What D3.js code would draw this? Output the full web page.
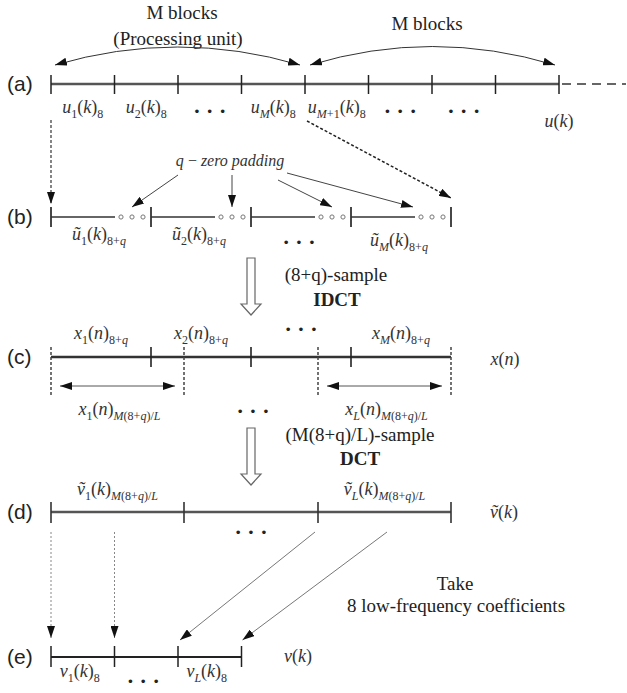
<!DOCTYPE html>
<html>
<head>
<meta charset="utf-8">
<script src="https://cdn.jsdelivr.net/npm/d3@7"></script>
<style>
  body { margin: 0; background: #fff; }
  svg { display: block; }
</style>
</head>
<body>
<svg width="627" height="693"></svg>
<script>
// ---- diagram data ----
var rows = ["(a)", "(b)", "(c)", "(d)", "(e)"];

// block boundaries, in blocks of 8 samples (row a, row e)
var blocksA = [0, 1, 2, 3, 4, 5, 6, 7, 8];
var blocksE = [0, 1, 2, 3];
// zero padded blocks of 8+q samples (rows b, c), M = 4
var blocksB = [0, 1, 2, 3, 4];
var dataPart = 0.64;                  // share of the 8 data samples
var padSamples = [0.70, 0.81, 0.92];  // q zeros at the end of each block
var ticksC = [1, 2, 3];
var partsL = [0, 1.33, 2.67, 4];      // L = 3 pieces of M(8+q)/L samples
var zeroTargets = [0.81, 1.81, 2.81, 3.62];

var labelsA = ["u_{1}(k)_{8}", "u_{2}(k)_{8}", "...", "u_{M}(k)_{8}", "u_{M+1}(k)_{8}", "...", "..."];
var labelsB = ["~u_{1}(k)_{8+q}", "~u_{2}(k)_{8+q}", "...", "~u_{M}(k)_{8+q}"];
var labelsC = ["x_{1}(n)_{8+q}", "x_{2}(n)_{8+q}", "...", "x_{M}(n)_{8+q}"];
var labelsCL = ["x_{1}(n)_{M(8+q)/L}", "...", "x_{L}(n)_{M(8+q)/L}"];
var labelsD = ["~v_{1}(k)_{M(8+q)/L}", "", "~v_{L}(k)_{M(8+q)/L}"];
var labelsE = ["v_{1}(k)_{8}", "...", "v_{L}(k)_{8}"];

// ---- setup ----
var svg = d3.select("svg");
svg.append("rect").attr("width", 627).attr("height", 693).attr("fill", "#fff");

var xa = d3.scaleLinear().domain([0, 8]).range([51, 559]);
var xb = d3.scaleLinear().domain([0, 4]).range([51, 451]);
var y = d3.scaleOrdinal().domain(rows).range([84, 217, 357, 512, 657]);

var serif = "'Liberation Serif', 'Times New Roman', serif";
var sans = "'Liberation Sans', Arial, sans-serif";

var defs = svg.append("defs");
defs.append("marker")
    .attr("id", "head")
    .attr("viewBox", "0 0 12 8")
    .attr("refX", 12).attr("refY", 4)
    .attr("markerWidth", 12).attr("markerHeight", 8)
    .attr("markerUnits", "userSpaceOnUse")
    .attr("orient", "auto-start-reverse")
  .append("path")
    .attr("d", "M0,0L12,4L0,8Z")
    .attr("fill", "#111");

var g = svg.append("g");

// ---- helpers ----
// tiny parser: "_{..}" is a subscript, "~x" puts a tilde on x
function parseMath(src) {
    var runs = [];
    function push(c, sub, tilde) {
        var s = c;
        if (tilde) s = (c === "u") ? "\u0169" : c + "\u0303";
        runs.push({ c: s, sub: sub, italic: /[A-Za-z]/.test(c) });
    }
    var i = 0;
    while (i < src.length) {
        var c = src[i];
        if (c === "_" && src[i + 1] === "{") {
            var j = src.indexOf("}", i);
            for (var k = i + 2; k < j; k++) push(src[k], true);
            i = j + 1;
            continue;
        }
        if (c === "~") { push(src[i + 1], false, true); i += 2; continue; }
        push(c, false);
        i++;
    }
    return runs;
}

function dots(x, cy) {
    g.append("text")
        .attr("x", x).attr("y", cy + 6)
        .attr("text-anchor", "middle")
        .attr("font-family", serif)
        .attr("font-weight", "bold")
        .attr("font-size", 22)
        .attr("fill", "#222")
        .text("\u00b7 \u00b7 \u00b7");
}

function mathLabel(x, yy, src, size) {
    if (!src) return;
    size = size || 18;
    var sub = Math.round(size * 0.67);
    var runs = parseMath(src);
    var t = g.append("text")
        .attr("x", x).attr("y", yy)
        .attr("text-anchor", "middle")
        .attr("font-family", serif)
        .attr("font-size", size)
        .attr("fill", "#333");
    var inSub = false;
    runs.forEach(function(r) {
        var dy = 0;
        if (r.sub && !inSub) dy = size * 0.28;
        if (!r.sub && inSub) dy = -size * 0.28;
        inSub = r.sub;
        t.append("tspan")
            .attr("dy", dy)
            .attr("font-size", r.sub ? sub : size)
            .attr("font-style", r.italic ? "italic" : "normal")
            .text(r.c);
    });
}

function label(x, yy, src, cy) {
    if (src === "...") dots(x, cy);
    else mathLabel(x, yy, src);
}

function plainText(x, yy, s, opt) {
    opt = opt || {};
    return g.append("text")
        .attr("x", x).attr("y", yy)
        .attr("text-anchor", opt.anchor || "middle")
        .attr("font-family", opt.family || serif)
        .attr("font-size", opt.size || 19)
        .attr("font-weight", opt.weight || "normal")
        .attr("font-style", opt.style || "normal")
        .attr("fill", opt.fill || "#222")
        .text(s);
}

function arrow(x1, y1, x2, y2, opt) {
    opt = opt || {};
    return g.append("line")
        .attr("x1", x1).attr("y1", y1).attr("x2", x2).attr("y2", y2)
        .attr("stroke", opt.stroke || "#333")
        .attr("stroke-width", opt.width || 1)
        .attr("stroke-dasharray", opt.dash || null)
        .attr("marker-end", "url(#head)");
}

function hollowArrow(x, y0, y1) {
    var p = d3.path();
    p.moveTo(x - 4, y0); p.lineTo(x + 4, y0); p.lineTo(x + 4, y1 - 11);
    p.lineTo(x + 10, y1 - 11); p.lineTo(x, y1); p.lineTo(x - 10, y1 - 11);
    p.lineTo(x - 4, y1 - 11); p.closePath();
    g.append("path").attr("d", p.toString())
        .attr("fill", "#fff").attr("stroke", "#666").attr("stroke-width", 1.2);
}

function ticks(data, sc, yy, up, down, w, col) {
    g.append("g").selectAll("line").data(data).join("line")
        .attr("x1", d => sc(d)).attr("x2", d => sc(d))
        .attr("y1", yy - up).attr("y2", yy + down)
        .attr("stroke", col || "#222").attr("stroke-width", w || 1.5);
}

function axisLine(x1, x2, yy, w, col) {
    g.append("line").attr("x1", x1).attr("x2", x2).attr("y1", yy).attr("y2", yy)
        .attr("stroke", col).attr("stroke-width", w);
}

// row labels
rows.forEach(function(r) {
    plainText(7, y(r) + 7, r, { anchor: "start", family: sans, size: 21, fill: "#222" });
});

// ---- (a) ----
var ya = y("(a)");
axisLine(xa(0), xa(8), ya, 2.6, "#555");
g.append("line").attr("x1", xa(8) + 3).attr("x2", 626).attr("y1", ya).attr("y2", ya)
    .attr("stroke", "#666").attr("stroke-width", 2).attr("stroke-dasharray", "9,6");
ticks(blocksA, xa, ya, 9, 10, 1.5, "#222");
labelsA.forEach(function(s, i) { label(xa(i + 0.5), ya + 29, s, ya + 28); });
mathLabel(xa(8), ya + 43, "u(k)");

plainText(182, 19, "M blocks");
plainText(178, 45, "(Processing unit)");
plainText(427, 30, "M blocks");
g.append("path").attr("d", "M55,65Q178,29 300,65").attr("fill", "none")
    .attr("stroke", "#333").attr("stroke-width", 1)
    .attr("marker-start", "url(#head)").attr("marker-end", "url(#head)");
g.append("path").attr("d", "M310,65Q432,28 555,65").attr("fill", "none")
    .attr("stroke", "#333").attr("stroke-width", 1)
    .attr("marker-start", "url(#head)").attr("marker-end", "url(#head)");

// ---- (b) ----
var yb = y("(b)");
blocksB.slice(0, -1).forEach(function(b) {
    axisLine(xb(b), xb(b + dataPart), yb, 1.6, "#333");
    g.append("g").selectAll("circle").data(padSamples).join("circle")
        .attr("cx", d => xb(b + d)).attr("cy", yb).attr("r", 2.1)
        .attr("fill", "#fff").attr("stroke", "#777").attr("stroke-width", 1);
});
ticks(blocksB, xb, yb, 10, 10, 1.8, "#333");
labelsB.forEach(function(s, i) { label(xb(i + 0.5) - 2, yb + 23 + (i === 3 ? 6 : 0), s, yb + 26); });

// arrows (a) -> (b)
arrow(xa(0), ya + 36, xb(0), yb - 13, { dash: "3,2", stroke: "#444", width: 1.3 });
arrow(xa(4) + 2, ya + 37, xb(4), yb - 19, { dash: "3,2", stroke: "#222", width: 1.5 });

// q-zero padding
plainText(230, 166, "q\u2009\u2212\u2009zero padding", { style: "italic", size: 16, fill: "#333" });
var zStarts = [[178, 175], [232, 175], [278, 180], [287, 173]];
zeroTargets.forEach(function(t, i) {
    arrow(zStarts[i][0], zStarts[i][1], xb(t), yb - 10, { stroke: "#444", width: 1 });
});

hollowArrow(251, 258, 315);
plainText(336, 281, "(8+q)-sample");
plainText(337, 306, "IDCT", { weight: "bold" });

// ---- (c) ----
var yc = y("(c)");
axisLine(xb(0), xb(4), yc, 2.4, "#333");
ticks(ticksC, xb, yc, 10, 10, 1.6, "#222");
g.append("g").selectAll("line").data(partsL).join("line")
    .attr("x1", d => xb(d)).attr("x2", d => xb(d))
    .attr("y1", yc - 10).attr("y2", yc + 38)
    .attr("stroke", "#444").attr("stroke-width", 1.5).attr("stroke-dasharray", "3,2");
labelsC.forEach(function(s, i) { label(xb(i + 0.5), yc - 18, s, yc - 27); });
mathLabel(505, yc + 8, "x(n)");

// length of first and last piece
[[partsL[0], partsL[1]], [partsL[2], partsL[3]]].forEach(function(p) {
    g.append("line")
        .attr("x1", xb(p[0]) + 9).attr("x2", xb(p[1]) - 9)
        .attr("y1", yc + 29).attr("y2", yc + 29)
        .attr("stroke", "#555").attr("stroke-width", 1)
        .attr("marker-start", "url(#head)").attr("marker-end", "url(#head)");
});
labelsCL.forEach(function(s, i) {
    label(xb((partsL[i] + partsL[i + 1]) / 2) + 2, yc + 58, s, yc + 55);
});

hollowArrow(251, 428, 485);
plainText(360, 441, "(M(8+q)/L)-sample");
plainText(360, 465, "DCT", { weight: "bold" });

// ---- (d) ----
var yd = y("(d)");
axisLine(xb(0), xb(4), yd, 2.6, "#555");
ticks(partsL, xb, yd, 10, 11, 1.6, "#333");
labelsD.forEach(function(s, i) {
    label(xb((partsL[i] + partsL[i + 1]) / 2), yd - 17, s, yd - 20);
});
dots(xb((partsL[1] + partsL[2]) / 2), yd + 21);
mathLabel(504, yd + 6, "~v(k)");

// ---- (e) ----
var ye = y("(e)");
axisLine(xa(0), xa(3), ye, 2, "#222");
ticks(blocksE, xa, ye, 11, 10, 1.5, "#222");
labelsE.forEach(function(s, i) { label(xa(i + 0.5) - 3, ye + 20, s, ye + 25); });
mathLabel(298, ye + 5, "v(k)");

// arrows (d) -> (e): low-frequency coefficients
arrow(xa(0), yd + 20, xa(0), ye - 19, { dash: "2,2", stroke: "#888", width: 1 });
arrow(xa(1), yd + 20, xa(1), ye - 19, { dash: "2,2", stroke: "#888", width: 1 });
arrow(xb(2.64), yd + 20, xa(2) + 2, ye - 17, { stroke: "#777", width: 1 });
arrow(xb(3.36), yd + 20, xa(3) + 1, ye - 17, { stroke: "#777", width: 1 });

plainText(455, 590, "Take");
plainText(456, 612, "8 low-frequency coefficients");
</script>
</body>
</html>
